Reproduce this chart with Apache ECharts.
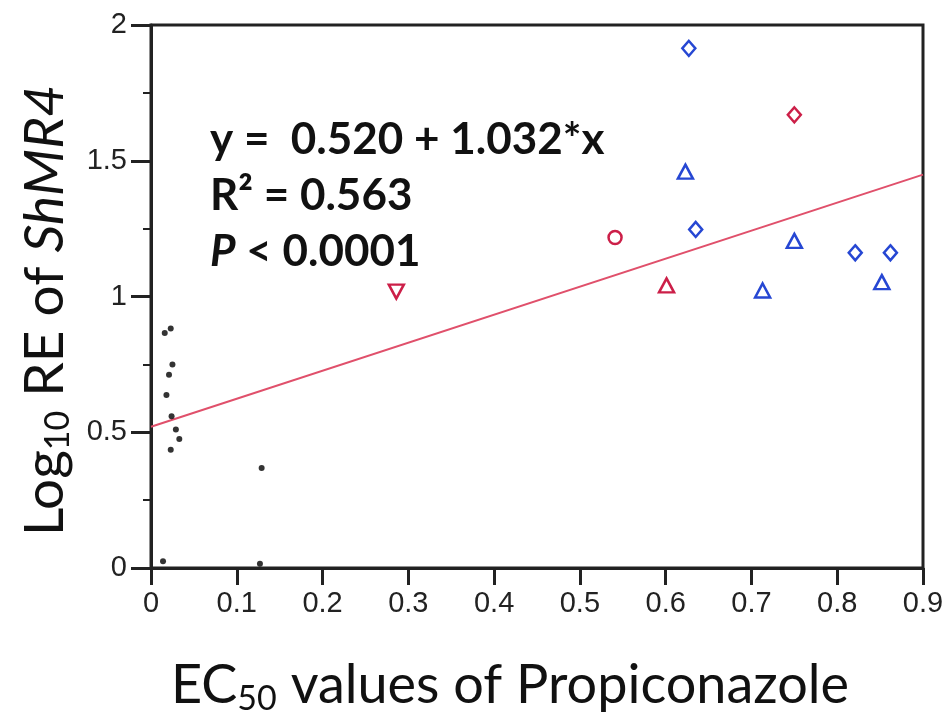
<!DOCTYPE html>
<html>
<head>
<meta charset="utf-8">
<script src="https://cdn.jsdelivr.net/npm/echarts@6/dist/echarts.min.js"></script>
<style>
  html, body { margin: 0; padding: 0; background: #fff; }
  #main { width: 949px; height: 724px; }
</style>
</head>
<body>
<div id="main"></div>
<script>
// data: [EC50, log10 RE]
var blackDots = [
  [0.016, 0.866], [0.023, 0.882], [0.025, 0.750], [0.021, 0.712],
  [0.018, 0.637], [0.024, 0.559], [0.029, 0.510], [0.033, 0.475],
  [0.023, 0.436], [0.129, 0.368], [0.014, 0.025], [0.127, 0.016]
];
var blueDiamonds = [[0.627, 1.914], [0.635, 1.247], [0.821, 1.161], [0.862, 1.161]];
var blueTriangles = [[0.623, 1.460], [0.750, 1.205], [0.713, 1.022], [0.852, 1.053]];
var redDiamonds = [[0.750, 1.669]];
var redCircles = [[0.541, 1.217]];
var redTriangles = [[0.601, 1.041]];
var redDownTriangles = [[0.286, 1.018]];
var fitLine = [[0, 0.520], [0.9, 1.449]];
var xTicks = [0, 0.1, 0.2, 0.3, 0.4, 0.5, 0.6, 0.7, 0.8, 0.9];

var blue = '#2647d3';
var red = '#cc1f48';
var axisCol = '#222';

var myChart = echarts.init(document.getElementById('main'));

function hollow(name, data, symbol, color, size, rotate) {
  return {
    name: name,
    type: 'scatter',
    data: data,
    symbol: symbol,
    symbolSize: size,
    symbolRotate: rotate || 0,
    itemStyle: { color: '#fff', borderColor: color, borderWidth: 2.5, opacity: 1 },
    z: 4
  };
}

option = {
  animation: false,
  grid: {
    left: 151, right: 26, top: 25, bottom: 156,
    show: true, borderColor: axisCol, borderWidth: 3
  },
  xAxis: {
    type: 'value',
    min: 0, max: 0.9, interval: 0.1,
    splitLine: { show: false },
    axisLine: { lineStyle: { color: axisCol, width: 3 } },
    axisTick: { length: 17, lineStyle: { color: axisCol, width: 3 } },
    axisLabel: {
      margin: 21, color: axisCol, fontSize: 29, fontFamily: 'Liberation Sans',
      formatter: function (v) { return xTicks.indexOf(Math.round(v * 10) / 10) >= 0 ? String(Math.round(v * 10) / 10) : ''; }
    },
    name: '{n|EC}{sub|50}{e| values of Propiconazole}',
    nameLocation: 'middle',
    nameGap: 88,
    nameTextStyle: {
      rich: {
        n: { fontSize: 54, fontFamily: 'Lato', color: '#111', lineHeight: 60 },
        e: { fontSize: 54, fontFamily: 'Lato', color: '#111', lineHeight: 60, padding: [0, 54, 0, 0] },
        sub: { fontSize: 34, fontFamily: 'Lato', color: '#111', lineHeight: 24, verticalAlign: 'bottom' }
      }
    }
  },
  yAxis: {
    type: 'value',
    min: 0, max: 2, interval: 0.5,
    splitLine: { show: false },
    axisLine: { lineStyle: { color: axisCol, width: 3 } },
    axisTick: { length: 20, lineStyle: { color: axisCol, width: 3 } },
    minorTick: { show: true, splitNumber: 2, length: 8, lineStyle: { color: axisCol, width: 2 } },
    axisLabel: { margin: 24, color: axisCol, fontSize: 29, fontFamily: 'Liberation Sans' },
    name: '{n|Log}{sub|10}{n| RE of }{i|ShMR4}',
    nameLocation: 'middle',
    nameRotate: 90,
    nameGap: 76,
    nameTextStyle: {
      rich: {
        n: { fontSize: 55, fontFamily: 'Lato', color: '#111', lineHeight: 60 },
        i: { fontSize: 55, fontFamily: 'Lato', fontStyle: 'italic', color: '#111', lineHeight: 60, padding: [0, 28, 0, 0] },
        sub: { fontSize: 34, fontFamily: 'Lato', color: '#111', lineHeight: 24, verticalAlign: 'bottom' }
      }
    }
  },
  graphic: [{
    type: 'text',
    left: 210, top: 118,
    style: {
      text: '{b|y =  0.520 + 1.032*x}\n{b|R² = 0.563}\n{bi|P}{b| < 0.0001}',
      rich: {
        b: { fontSize: 44, fontWeight: 'bold', fontFamily: 'Lato', fill: '#111', lineHeight: 56 },
        bi: { fontSize: 44, fontWeight: 'bold', fontStyle: 'italic', fontFamily: 'Lato', fill: '#111', lineHeight: 56 }
      }
    },
    z: 10
  }],
  series: [
    {
      name: 'fit',
      type: 'line',
      data: fitLine,
      symbol: 'none',
      lineStyle: { color: '#e0506b', width: 2 },
      z: 3
    },
    {
      name: 'dots',
      type: 'scatter',
      data: blackDots,
      symbol: 'circle',
      symbolSize: 6,
      itemStyle: { color: '#000' },
      z: 4
    },
    hollow('blueDiamond', blueDiamonds, 'diamond', blue, [13, 15]),
    hollow('blueTriangle', blueTriangles, 'triangle', blue, [15, 14]),
    hollow('redDiamond', redDiamonds, 'diamond', red, [13, 15]),
    hollow('redCircle', redCircles, 'circle', red, 13),
    hollow('redTriangle', redTriangles, 'triangle', red, [15, 14]),
    hollow('redDown', redDownTriangles, 'triangle', red, [15, 14], 180)
  ]
};
myChart.setOption(option);
</script>
</body>
</html>
